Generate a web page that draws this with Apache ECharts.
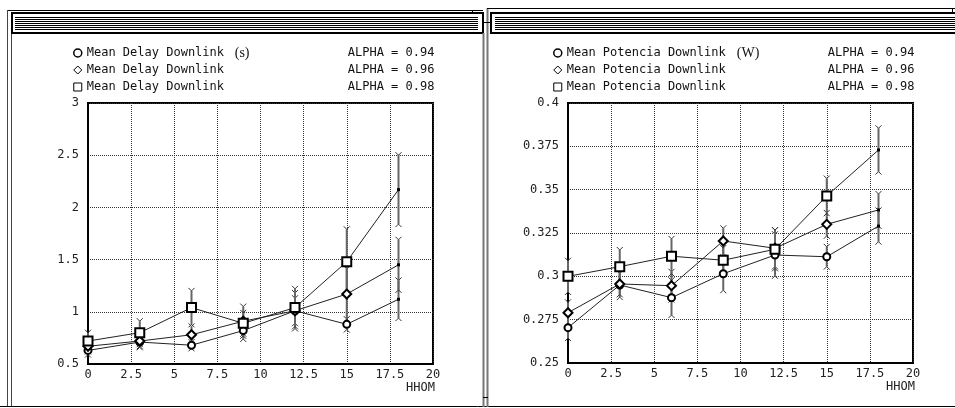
<!DOCTYPE html>
<html>
<head>
<meta charset="utf-8">
<script src="https://cdn.jsdelivr.net/npm/echarts@6/dist/echarts.min.js"></script>
<style>
  html, body { margin: 0; padding: 0; background: #fff; }
  #chart { width: 955px; height: 408px; }
</style>
</head>
<body>
<div id="chart"></div>
<script>
// x positions (HHOM)
const hhom = [0, 3, 6, 9, 12, 15, 18]

// Mean Delay Downlink (s)
const delay94 = [0.63, 0.71, 0.68, 0.82, 1.01, 0.88, 1.12]
const delay96 = [0.67, 0.72, 0.78, 0.91, 1.01, 1.17, 1.45]
const delay98 = [0.72, 0.80, 1.04, 0.89, 1.04, 1.48, 2.17]
const delay94Err = [0.04, 0.05, 0.03, 0.08, 0.12, 0.05, 0.18]
const delay96Err = [0.05, 0.05, 0.08, 0.14, 0.17, 0.24, 0.24]
const delay98Err = [0.08, 0.11, 0.16, 0.10, 0.18, 0.31, 0.33]

// Mean Potencia Downlink (W)
const pot94 = [0.2704, 0.295, 0.2877, 0.3015, 0.3123, 0.3113, 0.329]
const pot96 = [0.279, 0.2956, 0.2946, 0.3204, 0.3162, 0.330, 0.3383]
const pot98 = [0.300, 0.3056, 0.3116, 0.3093, 0.3156, 0.3464, 0.3729]
const pot94Err = [0.006, 0.007, 0.010, 0.0095, 0.012, 0.0057, 0.009]
const pot96Err = [0.006, 0.006, 0.008, 0.0073, 0.0105, 0.0066, 0.0092]
const pot98Err = [0.009, 0.0096, 0.010, 0.007, 0.011, 0.010, 0.0125]

const xTicks = { min: 0, max: 20, interval: 2.5 }
const delayTicks = { min: 0.5, max: 3, interval: 0.5 }
const potTicks = { min: 0.25, max: 0.4, interval: 0.025 }

const alphas = ['ALPHA = 0.94', 'ALPHA = 0.96', 'ALPHA = 0.98']

const mono = 'DejaVu Sans Mono'
const chart = echarts.init(document.getElementById('chart'))

const lineSeries = (name, vals, symbol, size, gi) => ({
  type: 'line',
  name,
  xAxisIndex: gi,
  yAxisIndex: gi,
  data: hhom.map((x, i) =>
    i === hhom.length - 1
      ? { value: [x, vals[i]], symbol: 'rect', symbolSize: 3 }
      : [x, vals[i]]
  ),
  symbol,
  symbolSize: size,
  itemStyle: { color: '#000', borderWidth: 1 },
  lineStyle: { color: '#222', width: 1 },
  z: 4,
  animation: false,
})

const errSeries = (vals, err, gi) => ({
  type: 'custom',
  xAxisIndex: gi,
  yAxisIndex: gi,
  silent: true,
  z: 3,
  encode: { x: 0, y: [1, 2] },
  data: hhom.map((x, i) => [x, vals[i] - err[i], vals[i] + err[i]]),
  renderItem: (params, api) => {
    const lo = api.coord([api.value(0), api.value(1)])
    const hi = api.coord([api.value(0), api.value(2)])
    const c = 3
    const cap = { stroke: '#333', fill: null, lineWidth: 1 }
    return {
      type: 'group',
      children: [
        { type: 'line', shape: { x1: lo[0], y1: lo[1], x2: hi[0], y2: hi[1] }, style: { stroke: '#666', lineWidth: 2 } },
        { type: 'polyline', shape: { points: [[hi[0] - c, hi[1] - c], [hi[0], hi[1]], [hi[0] + c, hi[1] - c]] }, style: cap },
        { type: 'polyline', shape: { points: [[lo[0] - c, lo[1] + c], [lo[0], lo[1]], [lo[0] + c, lo[1] + c]] }, style: cap },
      ],
    }
  },
  animation: false,
})

const xAxis = (gi) => ({
  type: 'value',
  gridIndex: gi,
  ...xTicks,
  name: 'HHOM',
  nameLocation: 'end',
  nameGap: 2,
  nameMoveOverlap: false,
  nameTextStyle: { fontFamily: mono, fontSize: 12, color: '#222', align: 'right', verticalAlign: 'top', padding: [18, 0, 0, 0] },
  axisLine: { show: true, lineStyle: { color: '#000', width: 2 } },
  axisTick: { show: false },
  axisLabel: { fontFamily: mono, fontSize: 12, color: '#222', margin: 5 },
  splitLine: { show: true, lineStyle: { color: '#333', width: 1, type: [1, 1] } },
})

const yAxis = (gi, ticks, fmt) => ({
  type: 'value',
  gridIndex: gi,
  ...ticks,
  axisLine: { show: true, lineStyle: { color: '#000', width: 2 } },
  axisTick: { show: false },
  axisLabel: { fontFamily: mono, fontSize: 12, color: '#222', margin: 9, formatter: fmt },
  splitLine: { show: true, lineStyle: { color: '#333', width: 1, type: [1, 1] } },
})

const legend = (left, names, labels, unit, w1) => ({
  left,
  top: 41,
  orient: 'vertical',
  selectedMode: false,
  itemWidth: 8,
  itemHeight: 8,
  itemGap: 3,
  data: [
    { name: names[0], icon: 'circle', itemStyle: { borderWidth: 1.5 } },
    { name: names[1], icon: 'diamond' },
    { name: names[2], icon: 'rect' },
  ],
  itemStyle: { color: '#fff', borderColor: '#000', borderWidth: 1 },
  formatter: (name) => {
    const i = names.indexOf(name)
    if (i === 0) return '{n1|' + labels + '}{u|' + unit + '}{a|' + alphas[i] + '}'
    return '{n|' + labels + '}{a|' + alphas[i] + '}'
  },
  textStyle: {
    fontFamily: mono,
    fontSize: 12,
    color: '#111',
    lineHeight: 14,
    rich: {
      n: { width: 261, fontFamily: mono, fontSize: 12, color: '#111' },
      n1: { width: w1, fontFamily: mono, fontSize: 12, color: '#111' },
      u: { width: 261 - w1, fontFamily: 'Liberation Serif', fontSize: 14, color: '#111' },
      a: { fontFamily: mono, fontSize: 12, color: '#111' },
    },
  },
})

// window frames (decoration)
const frame = []
const ln = (x1, y1, x2, y2, stroke, w) =>
  frame.push({ type: 'line', silent: true, shape: { x1, y1, x2, y2 }, style: { stroke, lineWidth: w || 1 } })
ln(7, 10.5, 483, 10.5, '#000')
ln(7.5, 10, 7.5, 407, '#444')
ln(11.5, 13, 11.5, 407, '#444')
ln(0, 406.5, 955, 406.5, '#000')
ln(472.5, 10, 472.5, 13, '#000')
frame.push({ type: 'rect', silent: true, shape: { x: 12, y: 13, width: 471, height: 20 }, style: { fill: '#fff', stroke: '#000', lineWidth: 2 } })
ln(483.5, 33, 483.5, 407, '#777', 2)
ln(487.5, 8, 487.5, 407, '#777', 2)
ln(483, 397.5, 488, 397.5, '#000')
ln(483, 22.5, 491, 22.5, '#000')
ln(487, 8.5, 955, 8.5, '#000')
ln(952.5, 8, 952.5, 13, '#000')
frame.push({ type: 'rect', silent: true, shape: { x: 491, y: 13, width: 470, height: 20 }, style: { fill: '#fff', stroke: '#000', lineWidth: 2 } })
for (let y = 17.5; y <= 30; y += 2) {
  ln(15, y, 478, y, '#000')
  ln(495, y, 955, y, '#000')
}

chart.setOption({
  backgroundColor: '#fff',
  animation: false,
  graphic: frame,
  legend: [
    legend(68, ['L94', 'L96', 'L98'], 'Mean Delay Downlink', '(s)', 148),
    legend(548, ['R94', 'R96', 'R98'], 'Mean Potencia Downlink', '(W)', 170),
  ],
  grid: [
    { left: 88, top: 103, width: 345, height: 261, show: true, borderColor: '#000', borderWidth: 2, backgroundColor: 'transparent' },
    { left: 568, top: 103, width: 345, height: 260, show: true, borderColor: '#000', borderWidth: 2, backgroundColor: 'transparent' },
  ],
  xAxis: [xAxis(0), xAxis(1)],
  yAxis: [
    yAxis(0, delayTicks),
    yAxis(1, potTicks, (v) => String(Math.round(v * 1000) / 1000)),
  ],
  series: [
    errSeries(delay94, delay94Err, 0),
    errSeries(delay96, delay96Err, 0),
    errSeries(delay98, delay98Err, 0),
    lineSeries('L94', delay94, 'emptyCircle', 7, 0),
    lineSeries('L96', delay96, 'emptyDiamond', 9, 0),
    lineSeries('L98', delay98, 'emptyRect', 9, 0),
    errSeries(pot94, pot94Err, 1),
    errSeries(pot96, pot96Err, 1),
    errSeries(pot98, pot98Err, 1),
    lineSeries('R94', pot94, 'emptyCircle', 7, 1),
    lineSeries('R96', pot96, 'emptyDiamond', 9, 1),
    lineSeries('R98', pot98, 'emptyRect', 9, 1),
  ],
})
</script>
</body>
</html>
